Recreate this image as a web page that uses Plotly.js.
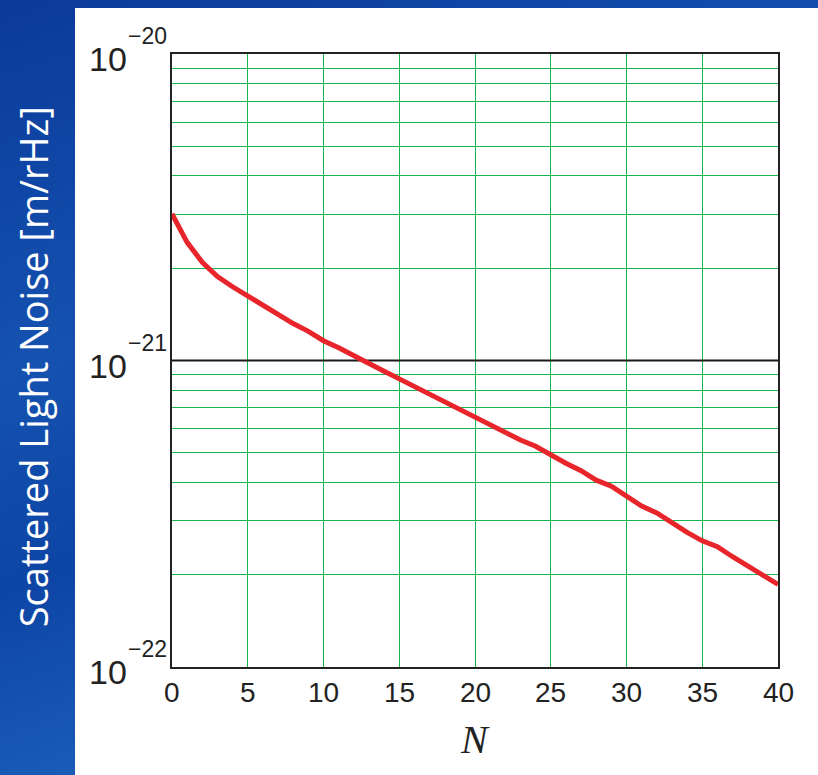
<!DOCTYPE html>
<html>
<head>
<meta charset="utf-8">
<script src="https://cdn.plot.ly/plotly-3.0.1.min.js"></script>
<style>
  html, body { margin: 0; padding: 0; width: 818px; height: 775px; overflow: hidden; }
  body { background: linear-gradient(160deg, #0a3a9a 0%, #1552b0 35%, #0d45a5 55%, #1a5cb8 75%, #0b3c9c 100%); position: relative; }
  #panel { position: absolute; left: 75px; top: 8px; width: 743px; height: 767px; background: #ffffff; }
  #chart { position: absolute; left: 0; top: 0; width: 818px; height: 775px; }
</style>
</head>
<body>
<div id="panel"></div>
<div id="chart"></div>
<script>
// Data
const N = [0,1,2,3,4,5,6,7,8,9,10,11,12,13,14,15,16,17,18,19,20,21,22,23,24,25,26,27,28,29,30,31,32,33,34,35,36,37,38,39,40];
const noise = [3.01e-21,2.43e-21,2.09e-21,1.88e-21,1.74e-21,1.62e-21,1.51e-21,1.41e-21,1.32e-21,1.245e-21,
  1.16e-21,1.10e-21,1.035e-21,9.73e-22,9.23e-22,8.71e-22,8.22e-22,7.76e-22,7.33e-22,6.92e-22,
  6.53e-22,6.17e-22,5.82e-22,5.50e-22,5.25e-22,4.92e-22,4.62e-22,4.37e-22,4.07e-22,3.89e-22,
  3.59e-22,3.35e-22,3.18e-22,2.95e-22,2.75e-22,2.58e-22,2.47e-22,2.29e-22,2.14e-22,2.00e-22,1.86e-22];
const refLevel = 1e-21;
const xTicks = [0,5,10,15,20,25,30,35,40];
const xTickLabels = ['0','5','10','15','20','25','30','35','40'];
const decades = [1e-22, 1e-21, 1e-20];
const decadeBase = '10';
const decadeExp = ['\u221222', '\u221221', '\u221220'];
const mantissas = [1,2,3,4,5,6,7,8,9];

// grid positions: all 1..9 per decade
const yGridVals = [];
decades.forEach((d, i) => {
  if (i === decades.length - 1) { yGridVals.push(d); return; }
  mantissas.forEach(m => yGridVals.push(m * d));
});

const gridGreen = '#12b850';
const tickColor = '#222';

const traces = [
  { x: [xTicks[0], xTicks[xTicks.length-1]], y: [refLevel, refLevel], mode: 'lines',
    line: { color: '#1a1a1a', width: 2 }, hoverinfo: 'skip', showlegend: false },
  { x: N, y: noise, mode: 'lines', line: { color: '#e8252b', width: 5 }, showlegend: false }
];

const annotations = [];
// y tick labels: base "10" and superscript exponent
decades.forEach((d, i) => {
  annotations.push({ text: decadeBase, xref: 'paper', yref: 'y', x: -0.071, y: Math.log10(d),
    xanchor: 'right', yanchor: 'middle', yshift: -5, showarrow: false,
    font: { family: 'Liberation Sans Narrow, Liberation Sans, Arial, sans-serif', size: 34, color: tickColor } });
  annotations.push({ text: decadeExp[i], xref: 'paper', yref: 'y', x: -0.076, y: Math.log10(d),
    xanchor: 'left', yanchor: 'middle', yshift: 18, showarrow: false,
    font: { family: 'Liberation Sans Narrow, Liberation Sans, Arial, sans-serif', size: 23, color: tickColor } });
});
// x tick labels
xTicks.forEach((v, i) => {
  annotations.push({ text: xTickLabels[i], xref: 'x', yref: 'paper', x: v, y: -0.041,
    xanchor: 'center', yanchor: 'middle', showarrow: false,
    font: { family: 'Liberation Sans, Arial, sans-serif', size: 28, color: tickColor } });
});
annotations.push({ text: 'Scattered Light Noise [m/rHz]', xref: 'paper', yref: 'paper',
  x: -0.23, y: 0.49, xanchor: 'center', yanchor: 'middle', textangle: -90, showarrow: false,
  font: { family: 'Open Sans, Lato, sans-serif', size: 38, color: '#ffffff' } });
annotations.push({ text: '<i>N</i>', xref: 'paper', yref: 'paper', x: 0.5, y: -0.119,
  xanchor: 'center', yanchor: 'middle', showarrow: false,
  font: { family: 'Liberation Serif, Times New Roman, serif', size: 40, color: tickColor } });

const layout = {
  width: 818, height: 775,
  margin: { l: 172, r: 40, t: 54, b: 108 },
  paper_bgcolor: 'rgba(0,0,0,0)',
  plot_bgcolor: '#ffffff',
  showlegend: false,
  xaxis: {
    range: [0, 40], tickvals: xTicks, showticklabels: false,
    showgrid: true, gridcolor: gridGreen, gridwidth: 1,
    zeroline: false, showline: true, linecolor: '#222', linewidth: 2, mirror: true, ticks: ''
  },
  yaxis: {
    type: 'log', range: [-22, -20], tickvals: yGridVals, showticklabels: false,
    showgrid: true, gridcolor: gridGreen, gridwidth: 1,
    zeroline: false, showline: true, linecolor: '#222', linewidth: 2, mirror: true, ticks: ''
  },
  annotations: annotations
};

Plotly.newPlot('chart', traces, layout, { displayModeBar: false, staticPlot: true });
</script>
</body>
</html>
